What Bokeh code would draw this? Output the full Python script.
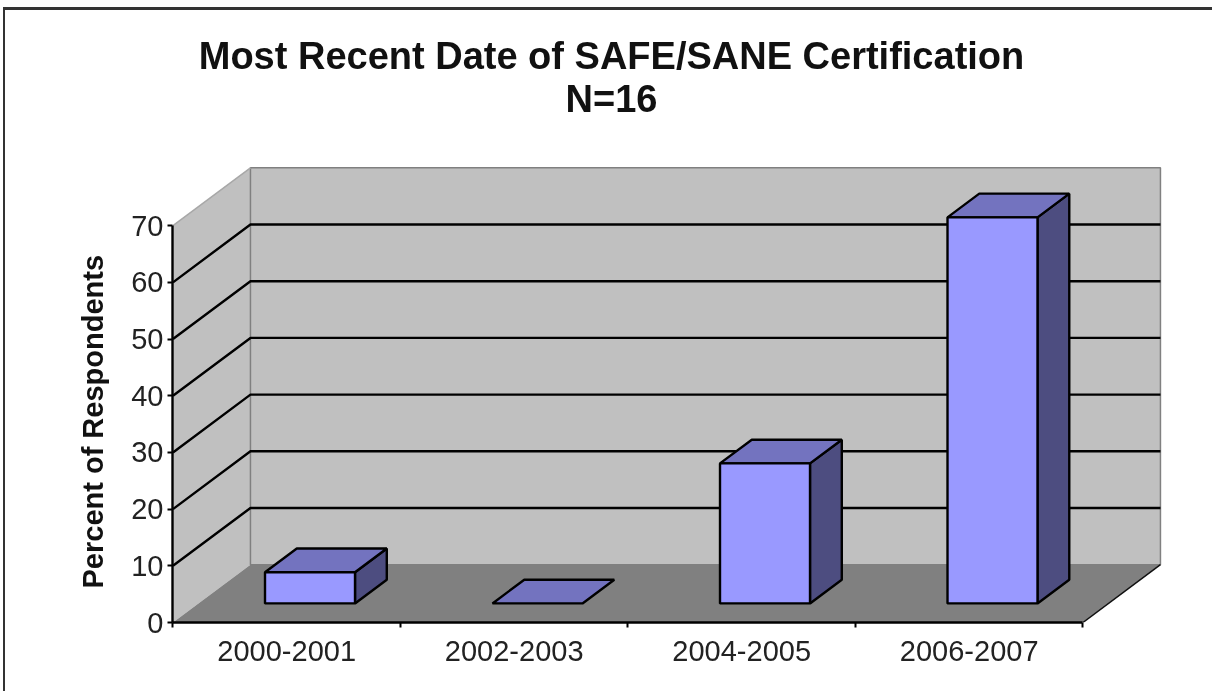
from bokeh.plotting import figure
from bokeh.embed import file_html
from bokeh.resources import INLINE
from bokeh.models import Label, FixedTicker, Range1d, InlineStyleSheet, Title

title_lines = ["Most Recent Date of SAFE/SANE Certification", "N=16"]
y_title = "Percent of Respondents"
categories = ["2000-2001", "2002-2003", "2004-2005", "2006-2007"]
values = [5.5, 0.0, 24.7, 68.1]
y_ticks = [0, 10, 20, 30, 40, 50, 60, 70]

FONT = "Liberation Sans"
X_PX = 227.5
Y_PX = 5.669
DX = 77.5 / X_PX
DY = 10.2
Z0, Z1 = 0.33, 0.74
BAR_W = 90 / X_PX
WALL, FLOOR = "#C0C0C0", "#808080"
FRONT, TOP, SIDE = "#9999FF", "#7373BF", "#4D4D80"
LW = 2.4

W, H = 1212, 691
LEFT, BOTTOM = 172, 691 - 622
n = len(categories)
ymax = y_ticks[-1]

p = figure(width=W, height=H, output_backend="svg", toolbar_location=None,
           x_range=Range1d(-0.002, (W - LEFT) / X_PX - 0.002),
           y_range=Range1d(0, (H - BOTTOM) / Y_PX),
           min_border_left=LEFT, min_border_bottom=BOTTOM, min_border_top=0, min_border_right=0,
           outline_line_color=None, background_fill_color=None, border_fill_color="white")
p.margin = 0
p.grid.visible = False
# chart-area border along the picture's left and top, and the picture's soft rendering
p.stylesheets = [InlineStyleSheet(css="""
:host { filter: blur(0.6px); }
:host::after { content: ''; position: absolute; left: 3px; top: 7px; right: 0; bottom: 0;
  border-left: 2px solid #333; border-top: 3px solid #333; pointer-events: none; }
""")]


def X(x, z):
    return x + z * DX


def Y(y, z):
    return y + z * DY


# walls and floor
p.patch([X(0, 0), X(0, 1), X(0, 1), X(0, 0)], [Y(0, 0), Y(0, 1), Y(ymax, 1), Y(ymax, 0)],
        fill_color=WALL, line_color=None)
p.patch([X(0, 1), X(n, 1), X(n, 1), X(0, 1)], [Y(0, 1), Y(0, 1), Y(ymax, 1), Y(ymax, 1)],
        fill_color=WALL, line_color=FLOOR, line_width=1.5)
p.line([X(0, 0), X(0, 1)], [Y(ymax, 0), Y(ymax, 1)], line_color="#A8A8A8", line_width=1.5)

# gridlines on the two walls
for t in y_ticks[1:-1]:
    p.line([X(0, 0), X(0, 1), X(n, 1)], [Y(t, 0), Y(t, 1), Y(t, 1)],
           line_color="#000000", line_width=LW)

p.patch([X(0, 0), X(n, 0), X(n, 1), X(0, 1)], [0, 0, Y(0, 1), Y(0, 1)],
        fill_color=FLOOR, line_color=None)
p.line([X(n, 0), X(n, 1)], [0, Y(0, 1)], line_color="#111111", line_width=1.5)

# bars
for i, v in enumerate(values):
    l, r = i + 0.49 - BAR_W / 2, i + 0.49 + BAR_W / 2
    if v > 0:
        p.patch([X(r, Z0), X(r, Z1), X(r, Z1), X(r, Z0)], [Y(0, Z0), Y(0, Z1), Y(v, Z1), Y(v, Z0)],
                fill_color=SIDE, line_color="#000000", line_width=LW)
    p.patch([X(l, Z0), X(r, Z0), X(r, Z1), X(l, Z1)], [Y(v, Z0), Y(v, Z0), Y(v, Z1), Y(v, Z1)],
            fill_color=TOP, line_color="#000000", line_width=LW)
    if v > 0:
        p.patch([X(l, Z0), X(r, Z0), X(r, Z0), X(l, Z0)], [Y(0, Z0), Y(0, Z0), Y(v, Z0), Y(v, Z0)],
                fill_color=FRONT, line_color="#000000", line_width=LW)

# axes
ax = p.yaxis[0]
ax.ticker = FixedTicker(ticks=y_ticks)
ax.bounds = (0, ymax)
ax.axis_line_color = "#000000"
ax.axis_line_width = LW
ax.major_tick_line_color = "#000000"
ax.major_tick_line_width = 2
ax.major_tick_in = 0
ax.major_tick_out = 5
ax.minor_tick_line_color = None
ax.major_label_text_font = FONT
ax.major_label_text_font_size = "29px"
ax.major_label_text_color = "#222222"
ax.major_label_standoff = 4

bx = p.xaxis[0]
centers = [i + 0.5 for i in range(n)]
bx.ticker = FixedTicker(ticks=centers, minor_ticks=list(range(n + 1)))
bx.major_label_overrides = {c: s for c, s in zip(centers, categories)}
bx.bounds = (0, n)
bx.axis_line_color = "#000000"
bx.axis_line_width = LW
bx.major_tick_line_color = None
bx.major_tick_in = 0
bx.major_tick_out = 0
bx.minor_tick_line_color = "#000000"
bx.minor_tick_line_width = 2
bx.minor_tick_in = 0
bx.minor_tick_out = 5
bx.major_label_text_font = FONT
bx.major_label_text_font_size = "29px"
bx.major_label_text_color = "#222222"
bx.major_label_standoff = 13

# titles
for txt, cy in zip(title_lines, (55, 98)):
    p.add_layout(Label(x=611, y=cy, x_units="canvas", y_units="canvas", text=txt,
                       text_font=FONT, text_font_style="bold", text_font_size="38px",
                       text_align="center", text_baseline="middle", text_color="#111111"))
p.add_layout(Title(text=y_title, align="left", offset=34, standoff=39,
                   text_font=FONT, text_font_style="bold", text_font_size="29px",
                   text_color="#111111"), "left")

open("out.html", "w").write(file_html(p, INLINE))
